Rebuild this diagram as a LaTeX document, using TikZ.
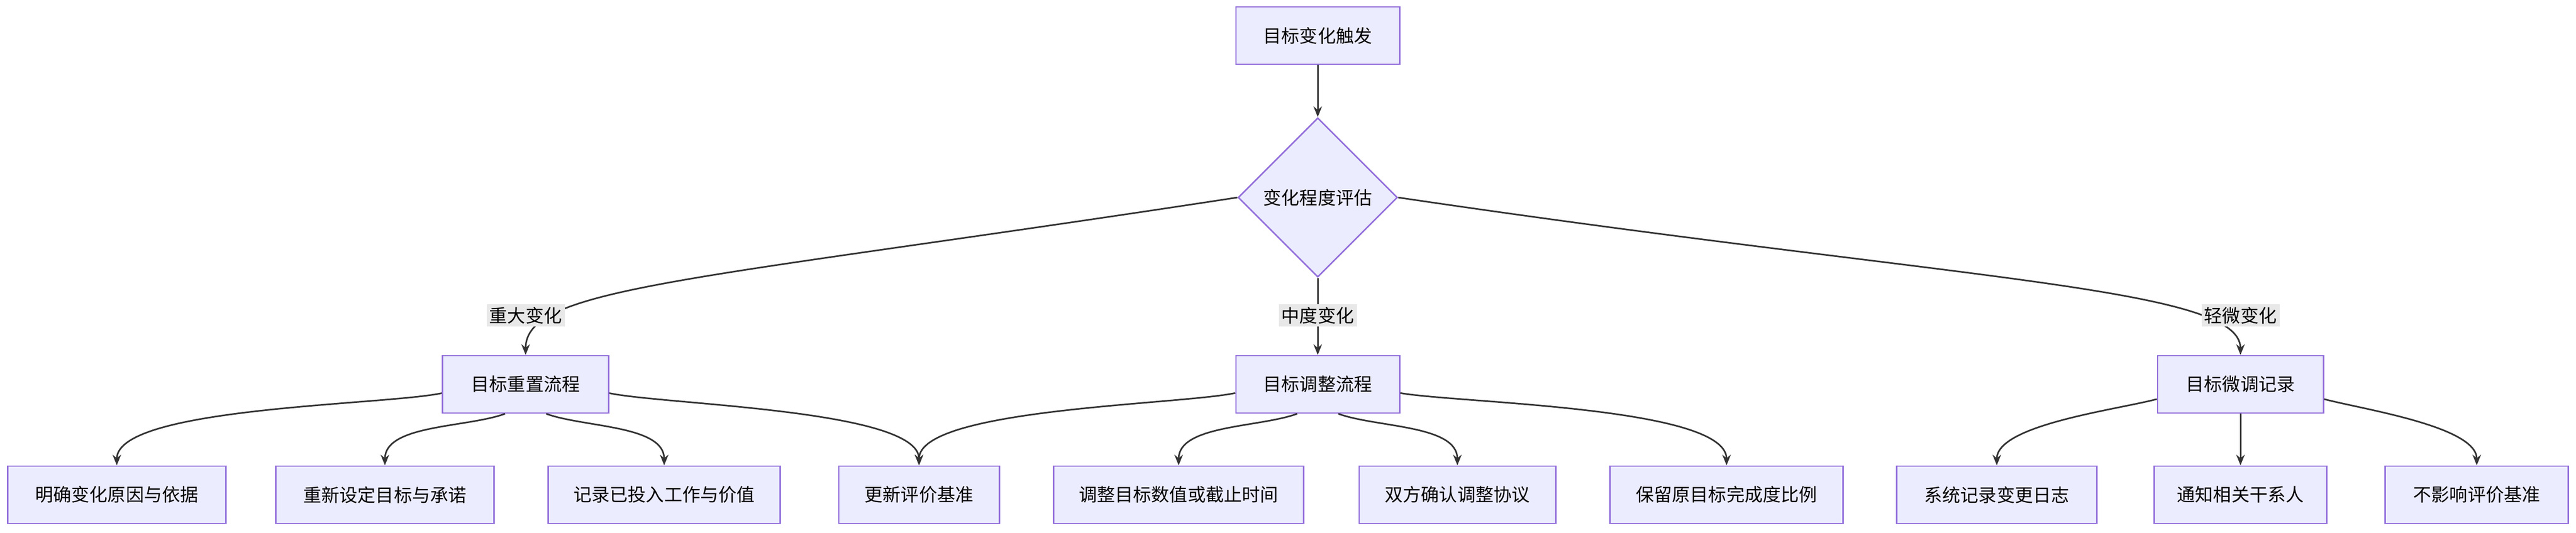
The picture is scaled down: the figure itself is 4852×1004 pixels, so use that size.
\documentclass[tikz,border=0pt]{standalone}
\usepackage{fontspec}
\setmainfont{Noto Sans CJK SC}
\usetikzlibrary{arrows.meta,shapes.geometric}
\definecolor{boxfill}{HTML}{ECECFF}
\definecolor{boxline}{HTML}{9370DB}
\definecolor{edgeline}{HTML}{333333}
\definecolor{labelfill}{HTML}{E8E8E8}

\begin{document}
\begin{tikzpicture}[x=0.01cm, y=-0.01cm,
            box/.style = {draw=boxline, fill=boxfill, line width=0.8pt, minimum height=1.08cm, inner sep=0pt, font=\fontsize{9.7}{12}\selectfont},
            check/.style = {draw=boxline, fill=boxfill, line width=0.8pt, diamond, aspect=1, minimum size=3cm, inner sep=0pt, font=\fontsize{9.7}{12}\selectfont},
            tag/.style = {fill=labelfill, inner sep=1.5pt, font=\fontsize{9.7}{12}\selectfont},
            flow/.style = {-{Stealth[length=0.2cm,width=0.16cm]}, draw=edgeline, line width=0.85pt}]
        \useasboundingbox (0,0) rectangle (4852,1004);

        \node[box, minimum width=3.08cm] (trigger) at (2482,67) {目标变化触发};
        \node[check] (assess) at (2482,372) {变化程度评估};

        \node[box, minimum width=3.13cm] (reset) at (990,724) {目标重置流程};
        \node[box, minimum width=3.08cm] (adjust) at (2482,724) {目标调整流程};
        \node[box, minimum width=3.12cm] (tune) at (4220,724) {目标微调记录};

        \node[box, minimum width=4.10cm] (cause) at (220,932) {明确变化原因与依据};
        \node[box, minimum width=4.10cm] (renew) at (725,932) {重新设定目标与承诺};
        \node[box, minimum width=4.37cm] (record) at (1251,932) {记录已投入工作与价值};
        \node[box, minimum width=3.02cm] (base) at (1731,932) {更新评价基准};
        \node[box, minimum width=4.70cm] (value) at (2220,932) {调整目标数值或截止时间};
        \node[box, minimum width=3.70cm] (agree) at (2745,932) {双方确认调整协议};
        \node[box, minimum width=4.39cm] (keep) at (3252,932) {保留原目标完成度比例};
        \node[box, minimum width=3.77cm] (log) at (3761,932) {系统记录变更日志};
        \node[box, minimum width=3.25cm] (notify) at (4220,932) {通知相关干系人};
        \node[box, minimum width=3.45cm] (nobase) at (4665,932) {不影响评价基准};

        \draw[flow] (trigger) -- (assess);
        \draw[flow] (assess.west) .. controls (1300,530) and (990,540) .. (reset.north);
        \draw[flow] (assess) -- (adjust);
        \draw[flow] (assess.east) .. controls (3700,530) and (4220,540) .. (tune.north);
        \node[tag] (major) at (990,594) {重大变化};
        \node[tag] (medium) at (2482,594) {中度变化};
        \node[tag] (minor) at (4220,594) {轻微变化};

        % children of the three flows
        \draw[flow] (reset.186) to[out=192, in=90, looseness=0.45] (cause.north);
        \draw[flow] (reset.235) to[out=200, in=90, looseness=0.8] (renew.north);
        \draw[flow] (reset.305) to[out=-20, in=90, looseness=0.8] (record.north);
        \draw[flow] (reset.354) to[out=-12, in=90, looseness=0.45] (base.north);
        \draw[flow] (adjust.186) to[out=192, in=90, looseness=0.45] (base.north);
        \draw[flow] (adjust.235) to[out=200, in=90, looseness=0.8] (value.north);
        \draw[flow] (adjust.305) to[out=-20, in=90, looseness=0.8] (agree.north);
        \draw[flow] (adjust.354) to[out=-10, in=90, looseness=0.45] (keep.north);
        \draw[flow] (tune.190) to[out=195, in=90, looseness=0.6] (log.north);
        \draw[flow] (tune) -- (notify);
        \draw[flow] (tune.350) to[out=-15, in=90, looseness=0.6] (nobase.north);
\end{tikzpicture}
\end{document}
